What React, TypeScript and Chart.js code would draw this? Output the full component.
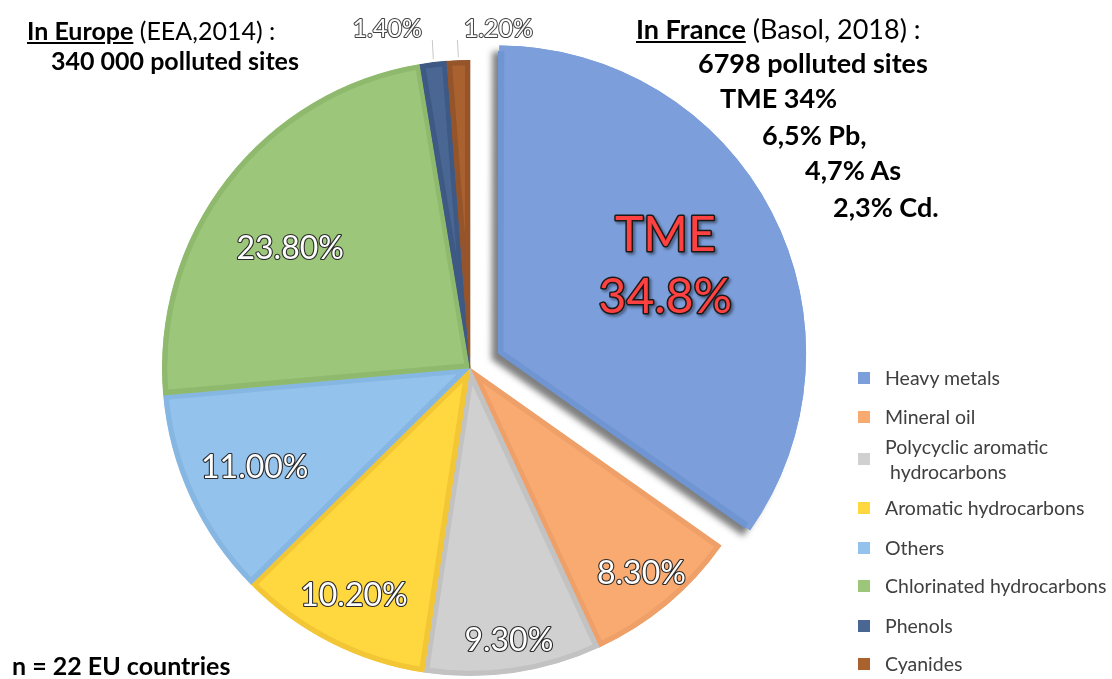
import React, { useEffect, useRef } from "react";
import { Chart, registerables } from "chart.js";

Chart.register(...registerables);

// ---- data ----
const categories = [
  "Heavy metals",
  "Mineral oil",
  "Polycyclic aromatic hydrocarbons",
  "Aromatic hydrocarbons",
  "Others",
  "Chlorinated hydrocarbons",
  "Phenols",
  "Cyanides",
];
const legendLines = [
  ["Heavy metals"],
  ["Mineral oil"],
  ["Polycyclic aromatic", "\u00a0hydrocarbons"],
  ["Aromatic hydrocarbons"],
  ["Others"],
  ["Chlorinated hydrocarbons"],
  ["Phenols"],
  ["Cyanides"],
];
const shares = [34.8, 8.3, 9.3, 10.2, 11.0, 23.8, 1.4, 1.2];
const sliceLabels = ["34.8%", "8.30%", "9.30%", "10.20%", "11.00%", "23.80%", "1.40%", "1.20%"];
const highlightTitle = "TME";

// ---- styles ----
const fills = ["#7C9FDB", "#F9AA70", "#D0D0D0", "#FFD73F", "#93C3EC", "#9CC67A", "#4A6794", "#A9622F"];
const borders = ["#7095D3", "#EEA068", "#C2C2C2", "#F2C634", "#86B7E3", "#8FBA6E", "#3F5985", "#95542A"];
const explodePx = [32, 0, 0, 0, 0, 0, 0, 0];
// label placement: radial factor (and small angular nudge, degrees) for inside labels,
// or leader-line placement for outside labels
const labelStyle: any[] = [
  { r: 0.61, a: 0 },
  { r: 0.87, a: 0 },
  { r: 0.895, a: 0 },
  { r: 0.83, a: 0 },
  { r: 0.77, a: 0 },
  { r: 0.7, a: -4.3 },
  { outside: true, lineTop: 40, dx: -46, dy: -11 },
  { outside: true, lineTop: 40, dx: 40, dy: -11 },
];

const FONT = "Lato, 'Open Sans', sans-serif";

const labelPlugin = {
  id: "sliceLabels",
  beforeDatasetsDraw(chart: any) {
    const ctx = chart.ctx;
    const meta = chart.getDatasetMeta(0);
    const baseArc = meta.data.find((_: any, i: number) => !explodePx[i]);
    const baseR = baseArc.outerRadius;
    meta.data.forEach((arc: any, i: number) => {
      if (!explodePx[i]) return;
      // Chart.js enlarges exploded arcs slightly; keep the same radius as the others
      const fix = 1 - Math.sin(Math.min(Math.PI, arc.circumference));
      arc.outerRadius = baseR - explodePx[i] * fix;
      ctx.save();
      ctx.shadowColor = "rgba(0,0,0,0.5)";
      ctx.shadowBlur = 6;
      ctx.shadowOffsetX = -7;
      ctx.shadowOffsetY = 6;
      arc.draw(ctx);
      ctx.restore();
    });
  },
  afterDatasetsDraw(chart: any) {
    const ctx = chart.ctx;
    const meta = chart.getDatasetMeta(0);
    const baseArc = meta.data.find((_: any, i: number) => !explodePx[i]);
    const R = baseArc.outerRadius;
    meta.data.forEach((arc: any, i: number) => {
      const p = arc.getProps(["x", "y", "startAngle", "endAngle"], true);
      const st = labelStyle[i];
      const mid = (p.startAngle + p.endAngle) / 2;
      const ang = mid + ((st.a || 0) * Math.PI) / 180;
      const cx = Math.cos(ang);
      const cy = Math.sin(ang);
      ctx.save();
      ctx.textAlign = "center";
      ctx.textBaseline = "middle";
      ctx.lineJoin = "round";
      if (st.outside) {
        const ex = p.x + Math.cos(mid) * R;
        const ey = p.y + Math.sin(mid) * R;
        ctx.strokeStyle = "#C8C8C8";
        ctx.lineWidth = 1;
        ctx.beginPath();
        ctx.moveTo(ex, ey - 3);
        ctx.lineTo(ex - 1, st.lineTop);
        ctx.stroke();
        const lx = ex + st.dx;
        const ly = st.lineTop + st.dy;
        ctx.font = `25px ${FONT}`;
        ctx.lineWidth = 2;
        ctx.strokeStyle = "#404040";
        ctx.strokeText(sliceLabels[i], lx, ly);
        ctx.fillStyle = "#FFFFFF";
        ctx.fillText(sliceLabels[i], lx, ly);
      } else if (explodePx[i]) {
        const d = st.r * R + explodePx[i];
        const lx = p.x + cx * d;
        const ly = p.y + cy * d;
        ctx.font = `48px ${FONT}`;
        ctx.lineWidth = 3;
        ctx.strokeStyle = "#1A1A1A";
        ctx.shadowColor = "rgba(0,0,0,0.45)";
        ctx.shadowBlur = 3;
        ctx.shadowOffsetX = 2;
        ctx.shadowOffsetY = 2;
        ctx.strokeText(highlightTitle, lx, ly - 31);
        ctx.strokeText(sliceLabels[i], lx, ly + 31);
        ctx.shadowColor = "transparent";
        ctx.fillStyle = "#FF4141";
        ctx.fillText(highlightTitle, lx, ly - 31);
        ctx.fillText(sliceLabels[i], lx, ly + 31);
      } else {
        const d = st.r * R;
        const lx = p.x + cx * d;
        const ly = p.y + cy * d;
        ctx.font = `32px ${FONT}`;
        ctx.lineWidth = 2.2;
        ctx.strokeStyle = "#2A2A2A";
        ctx.strokeText(sliceLabels[i], lx, ly);
        ctx.fillStyle = "#FFFFFF";
        ctx.fillText(sliceLabels[i], lx, ly);
      }
      ctx.restore();
    });
  },
};

const boldText: React.CSSProperties = {
  position: "absolute",
  fontFamily: FONT,
  fontWeight: 700,
  fontSize: 25,
  color: "#000",
  whiteSpace: "pre",
  lineHeight: "28px",
};
const frText: React.CSSProperties = { ...boldText, fontSize: 27 };

export default function App() {
  const ref = useRef<HTMLCanvasElement | null>(null);

  useEffect(() => {
    if (!ref.current) return;
    const chart = new Chart(ref.current, {
      type: "pie",
      data: {
        labels: categories,
        datasets: [
          {
            data: shares,
            backgroundColor: fills,
            borderColor: borders,
            borderWidth: 5,
            borderAlign: "inner",
            // Chart.js translates an arc by offset / 4 pixels
            offset: explodePx.map((v) => v * 4),
          } as any,
        ],
      },
      options: {
        animation: false,
        responsive: true,
        maintainAspectRatio: false,
        radius: 308,
        layout: { padding: { left: 0, right: 172, top: 57, bottom: 0 } },
        plugins: {
          legend: { display: false },
          tooltip: { enabled: false },
        },
      } as any,
      plugins: [labelPlugin],
    });
    return () => chart.destroy();
  }, []);

  const legendTops = [365, 404, 434, 495, 535, 573, 613, 651];

  return (
    <div
      style={{
        position: "absolute",
        left: 0,
        top: 0,
        width: 1112,
        height: 679,
        background: "#fff",
        overflow: "hidden",
      }}
    >
      <canvas ref={ref} style={{ position: "absolute", left: 0, top: 0 }} />
      <div style={{ ...boldText, left: 27, top: 16 }}>
        <span style={{ textDecoration: "underline" }}>In Europe</span>
        <span style={{ fontWeight: 400 }}> (EEA,2014) :</span>
      </div>
      <div style={{ ...boldText, left: 51, top: 46 }}>340 000 polluted sites</div>

      <div style={{ ...frText, left: 636, top: 15 }}>
        <span style={{ textDecoration: "underline" }}>In France</span>
        <span style={{ fontWeight: 400 }}> (Basol, 2018) :</span>
      </div>
      <div style={{ ...frText, left: 698, top: 49 }}>6798 polluted sites</div>
      <div style={{ ...frText, left: 720, top: 84 }}>TME 34%</div>
      <div style={{ ...frText, left: 762, top: 121 }}>6,5% Pb,</div>
      <div style={{ ...frText, left: 805, top: 156 }}>4,7% As</div>
      <div style={{ ...frText, left: 833, top: 193 }}>2,3% Cd.</div>

      <div style={{ ...boldText, left: 12, top: 651, fontSize: 25 }}>n = 22 EU countries</div>

      {legendLines.map((lines, i) => (
        <div
          key={i}
          style={{
            position: "absolute",
            left: 858,
            top: legendTops[i],
            display: "flex",
            alignItems: "center",
            fontFamily: FONT,
            fontSize: 19.5,
            color: "#404040",
            lineHeight: "25px",
          }}
        >
          <div style={{ width: 12, height: 12, background: fills[i], marginRight: 15, flex: "none" }} />
          <div style={{ whiteSpace: "pre" }}>
            {lines.map((l, j) => (
              <div key={j}>{l}</div>
            ))}
          </div>
        </div>
      ))}
    </div>
  );
}
